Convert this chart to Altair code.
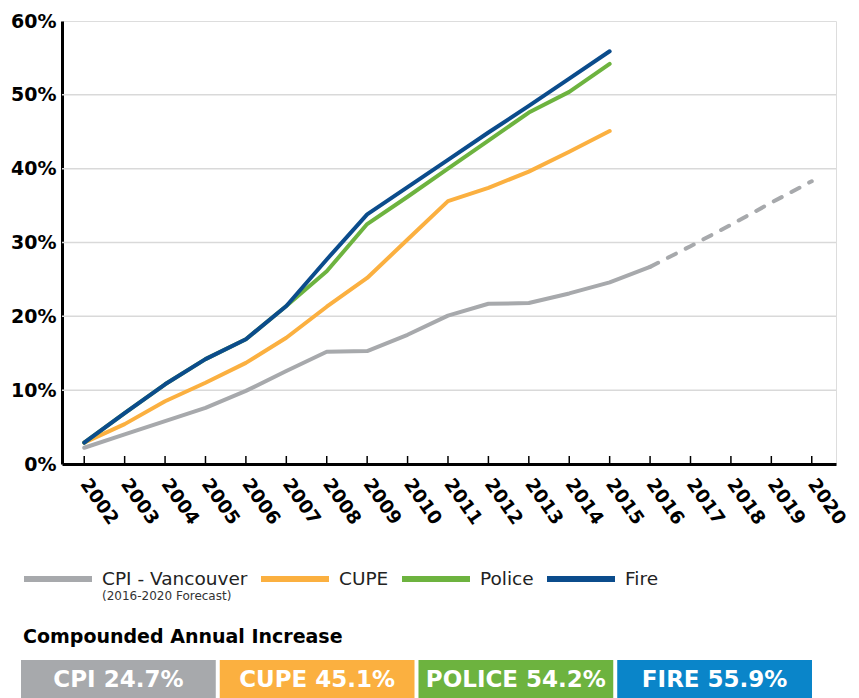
import altair as alt
import pandas as pd

# ---------------- data ----------------
series_names = ["CPI - Vancouver", "CUPE", "Police", "Fire"]
series_colors = ["#A7A9AC", "#FBB040", "#6DB33F", "#0B4C8C"]

years = list(range(2002, 2016))
cpi = [2.2, 4.0, 5.8, 7.6, 9.9, 12.6, 15.2, 15.3, 17.5, 20.1, 21.7, 21.8, 23.1, 24.6]
cupe = [2.9, 5.4, 8.5, 11.0, 13.7, 17.1, 21.3, 25.2, 30.4, 35.6, 37.4, 39.6, 42.3, 45.1]
police = [2.9, 6.9, 10.8, 14.2, 16.9, 21.4, 26.1, 32.5, 36.2, 40.0, 43.8, 47.6, 50.4, 54.2]
fire = [2.9, 6.9, 10.8, 14.2, 16.9, 21.4, 27.7, 33.8, 37.5, 41.2, 44.9, 48.5, 52.2, 55.9]

cpi_2016 = 26.7
forecast_years = [2016, 2017, 2018, 2019, 2020]
forecast_vals = [26.7, 29.5, 32.4, 35.4, 38.3]

tick_years = list(range(2002, 2021))
y_ticks = [0, 10, 20, 30, 40, 50, 60]
grid_vals = [10, 20, 30, 40, 50]

box_title = "Compounded Annual Increase"
box_labels = ["CPI 24.7%", "CUPE 45.1%", "POLICE 54.2%", "FIRE 55.9%"]
box_colors = ["#A7A9AC", "#FBB040", "#6DB33F", "#0A85C9"]
forecast_note = "(2016-2020 Forecast)"

# ---------------- tables ----------------
rows = []
for name, vals in zip(series_names, [cpi, cupe, police, fire]):
    for yr, v in zip(years, vals):
        rows.append({"series": name, "year": yr, "value": v})
rows.append({"series": "CPI - Vancouver", "year": 2016, "value": cpi_2016})
lines_df = pd.DataFrame(rows)
fc_df = pd.DataFrame({"year": forecast_years, "value": forecast_vals})
ticks_df = pd.DataFrame({"year": tick_years})
grid_df = pd.DataFrame({"value": grid_vals})
box_df = pd.DataFrame({"label": box_labels})

W, H = 774, 443
FONT = "DejaVu Sans"

xscale = alt.Scale(domain=[2001.45, 2020.6], nice=False, zero=False)
yscale = alt.Scale(domain=[0, 60], nice=False)

x_axis = alt.Axis(
    values=tick_years, format="d", labelAngle=55, labelAlign="left",
    labelBaseline="middle", labelFontSize=18.5, labelFontWeight="bold",
    labelFont=FONT, labelColor="black", ticks=False, domainColor="black",
    domainWidth=3, grid=False, title=None, labelPadding=16,
    labelOverlap=False, labelFlush=False, labelBound=False,
)
y_axis = alt.Axis(
    values=y_ticks, labelExpr="datum.value + '%'", ticks=False, grid=False,
    domainWidth=3, domainColor="black", labelFontSize=19, labelFontWeight="bold",
    labelFont=FONT, labelColor="black", labelPadding=6, title=None,
)

grid = alt.Chart(grid_df).mark_rule(color="#D9D9D9", strokeWidth=1.5).encode(
    y=alt.Y("value:Q", scale=yscale, axis=y_axis)
)

tick_marks = alt.Chart(ticks_df).mark_rule(color="black", strokeWidth=1.5).encode(
    x=alt.X("year:Q", scale=xscale, axis=x_axis),
    y=alt.value(H - 8),
    y2=alt.value(H),
)

lines = alt.Chart(lines_df).mark_line(strokeWidth=4, strokeCap="round", strokeJoin="round").encode(
    x=alt.X("year:Q", scale=xscale, axis=x_axis),
    y=alt.Y("value:Q", scale=yscale, axis=y_axis),
    color=alt.Color(
        "series:N",
        sort=series_names,
        scale=alt.Scale(domain=series_names, range=series_colors),
        legend=alt.Legend(
            orient="none", legendX=-41, legendY=521, direction="horizontal",
            title=None, symbolType="stroke", symbolStrokeWidth=6, symbolSize=4624,
            labelFontSize=18.5, labelFont=FONT, labelColor="#222", labelOffset=7,
            columnPadding=1, labelLimit=300,
        ),
    ),
    order=alt.Order("year:Q"),
)

forecast = alt.Chart(fc_df).mark_line(
    strokeWidth=4, strokeCap="round", strokeDash=[9, 11], color="#A7A9AC"
).encode(x=alt.X("year:Q", scale=xscale, axis=x_axis), y=alt.Y("value:Q", scale=yscale, axis=y_axis))

note = alt.Chart(pd.DataFrame({"t": [forecast_note]})).mark_text(
    align="left", baseline="middle", fontSize=12, font=FONT, color="#333"
).encode(text="t:N", x=alt.value(40), y=alt.value(575))

title_txt = alt.Chart(pd.DataFrame({"t": [box_title]})).mark_text(
    align="left", baseline="middle", fontSize=19, font=FONT, fontWeight="bold", color="black"
).encode(text="t:N", x=alt.value(-39), y=alt.value(616))

main = alt.layer(grid, tick_marks, lines, forecast, note, title_txt)

xbox = alt.X("label:N", sort=box_labels,
             scale=alt.Scale(domain=box_labels, range=[-41, 750], paddingInner=0.02, paddingOuter=0),
             axis=None)

box_rect = alt.Chart(box_df).mark_rect().encode(
    x=xbox,
    y=alt.value(639),
    y2=alt.value(688),
    color=alt.Color("label:N", scale=alt.Scale(domain=box_labels, range=box_colors), legend=None),
)
box_text = alt.Chart(box_df).mark_text(
    color="white", fontSize=23, fontWeight="bold", font=FONT, baseline="middle"
).encode(x=xbox, y=alt.value(659), text="label:N")

boxes = alt.layer(box_rect, box_text)

chart = alt.layer(main, boxes).resolve_scale(
    color="independent", x="independent"
).properties(
    width=W, height=H,
    padding={"left": 2, "top": 4, "right": 0, "bottom": 0},
).configure_view(strokeWidth=0).configure(font=FONT)

chart.save("out.html", embed_options={"renderer": "svg", "actions": False})
